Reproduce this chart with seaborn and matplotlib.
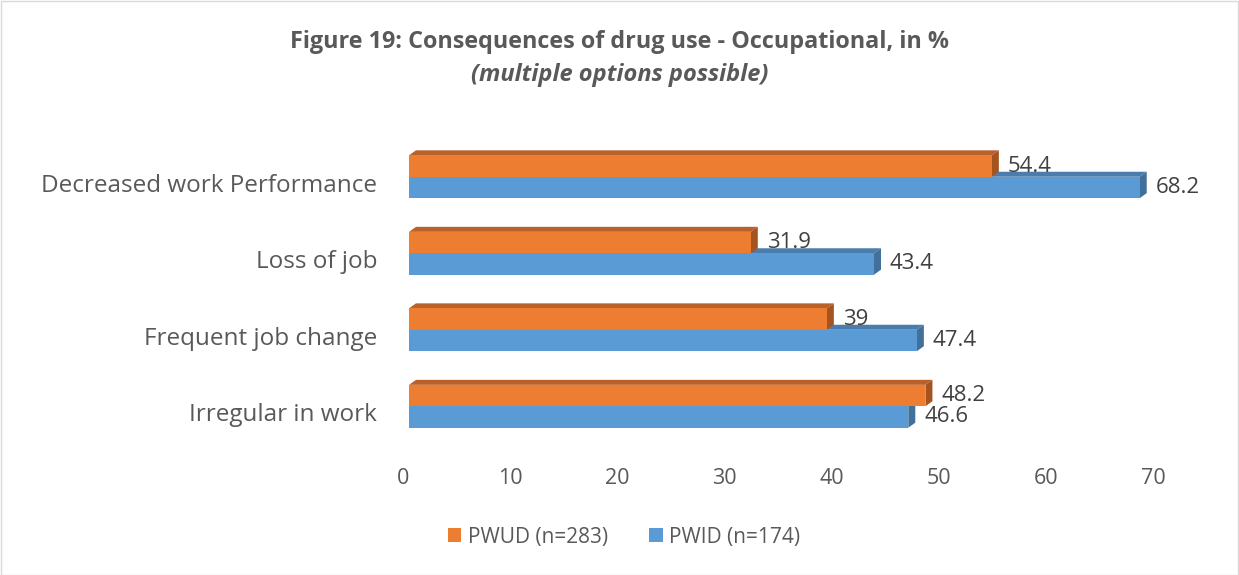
import matplotlib
matplotlib.use("Agg")
import matplotlib.pyplot as plt
import matplotlib.transforms as mtransforms
from matplotlib.patches import Polygon, Rectangle
import pandas as pd
import seaborn as sns

# Data
categories = ["Decreased work Performance", "Loss of job", "Frequent job change", "Irregular in work"]
pwud = [54.4, 31.9, 39, 48.2]
pwid = [68.2, 43.4, 47.4, 46.6]
series_names = ["PWUD (n=283)", "PWID (n=174)"]
x_ticks = [0, 10, 20, 30, 40, 50, 60, 70]

colors = {"PWUD (n=283)": "#ED7D31", "PWID (n=174)": "#5B9BD5"}
top_colors = {"PWUD (n=283)": "#B8612A", "PWID (n=174)": "#4A7DAE"}
side_colors = {"PWUD (n=283)": "#A5541F", "PWID (n=174)": "#41709B"}

df = pd.DataFrame({
    "category": categories * 2,
    "value": pwud + pwid,
    "series": [series_names[0]] * 4 + [series_names[1]] * 4,
})

sns.set_style("white")
plt.rcParams["font.family"] = ["Open Sans", "DejaVu Sans"]

W, H = 1239, 575
fig = plt.figure(figsize=(W / 100, H / 100), dpi=100)
ax = fig.add_axes([409 / W, 1 - 455 / H, (1159 - 409) / W, (455 - 138.5) / H])

sns.barplot(data=df, y="category", x="value", hue="series", orient="h",
            order=categories, hue_order=series_names, palette=colors,
            width=0.56, saturation=1, errorbar=None, linewidth=0,
            ax=ax, legend=False)

ax.set_xlim(0, 70)
ax.set_ylim(3.637, -0.5)
ax.set_xticks(x_ticks)
ax.set_xlabel("")
ax.set_ylabel("")
for s in ax.spines.values():
    s.set_visible(False)
ax.tick_params(axis="both", length=0, colors="#595959")
ax.tick_params(axis="y", labelsize=17.5, pad=23)
ax.tick_params(axis="x", labelsize=15.5, pad=9.5)

# nudge tick labels to match the 3D projection offset of the original
dx = mtransforms.ScaledTranslation(-6 / 100, 0, fig.dpi_scale_trans)
for lab in ax.get_xticklabels():
    lab.set_transform(lab.get_transform() + dx)
dy = mtransforms.ScaledTranslation(0, -6 / 100, fig.dpi_scale_trans)
for lab in ax.get_yticklabels():
    lab.set_transform(lab.get_transform() + dy)

# fake 3D: top and right faces drawn in pixel offsets from each bar
ddx, ddy = 7, 5
for cont, name in zip(ax.containers, series_names):
    for bar in cont:
        x0, y0 = bar.get_x(), bar.get_y()
        w, h = bar.get_width(), bar.get_height()
        (px0, py_top) = ax.transData.transform((x0, y0))
        (px1, py_bot) = ax.transData.transform((x0 + w, y0 + h))
        z = 2.9 if name == series_names[0] else 1.4
        top = Polygon([(px0, py_top), (px0 + ddx, py_top + ddy),
                       (px1 + ddx, py_top + ddy), (px1, py_top)],
                      closed=True, transform=None, facecolor=top_colors[name],
                      edgecolor="none", zorder=z)
        side = Polygon([(px1, py_top), (px1 + ddx, py_top + ddy),
                        (px1 + ddx, py_bot + ddy), (px1, py_bot)],
                       closed=True, transform=None, facecolor=side_colors[name],
                       edgecolor="none", zorder=z)
        ax.add_artist(top)
        ax.add_artist(side)

# orange bars sit above the blue top faces
for bar in ax.containers[0]:
    bar.set_zorder(3)
for bar in ax.containers[1]:
    bar.set_zorder(1.5)

for cont in ax.containers:
    ax.bar_label(cont, labels=[f"{v:g}" for v in cont.datavalues], padding=11.5,
                 fontsize=16, color="#404040", zorder=5)

# title
fig.text(620 / W, 1 - 42 / H, "Figure 19: Consequences of drug use - Occupational, in %",
         ha="center", va="center", fontsize=16.8, fontweight="bold", color="#595959")
fig.text(620 / W, 1 - 75 / H, "(multiple options possible)",
         ha="center", va="center", fontsize=17, fontweight="bold", style="italic",
         color="#595959")

# legend
handles = [Rectangle((0, 0), 1, 1, facecolor=colors[n], edgecolor="none") for n in series_names]
fig.legend(handles, series_names, loc="center", bbox_to_anchor=(624 / W, 1 - 537 / H),
           ncol=2, frameon=False, fontsize=15, labelcolor="#595959",
           handlelength=0.65, handleheight=0.65, handletextpad=0.3, columnspacing=2.0)

# chart border
fig.patches.append(Rectangle((0.5 / W, 0.5 / H), 1 - 1.5 / W, 1 - 1.5 / H,
                             transform=fig.transFigure, fill=False,
                             edgecolor="#D9D9D9", linewidth=1))

fig.savefig("out.png", dpi=100)
